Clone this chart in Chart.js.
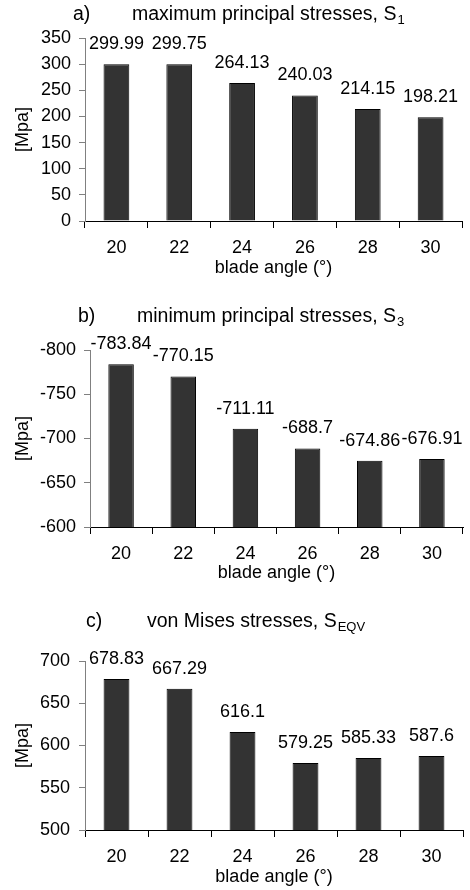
<!DOCTYPE html>
<html>
<head>
<meta charset="utf-8">
<script src="https://cdn.jsdelivr.net/npm/chart.js@4/dist/chart.umd.min.js"></script>
<style>
  html, body { margin: 0; padding: 0; background: #fff; }
  #wrap { position: relative; width: 470px; height: 890px; }
  canvas { position: absolute; left: 0; }
</style>
</head>
<body>
<div id="wrap">
  <canvas id="chartA" width="470" height="290" style="top:0px"></canvas>
  <canvas id="chartB" width="470" height="300" style="top:290px"></canvas>
  <canvas id="chartC" width="470" height="300" style="top:590px"></canvas>
</div>
<script>
// blade angles (x categories)
var angles = ['20', '22', '24', '26', '28', '30'];
// a) maximum principal stresses S1
var s1Values = [299.99, 299.75, 264.13, 240.03, 214.15, 198.21];
// b) minimum principal stresses S3
var s3Values = [-783.84, -770.15, -711.11, -688.7, -674.86, -676.91];
// c) von Mises stresses SEQV
var seqvValues = [678.83, 667.29, 616.1, 579.25, 585.33, 587.6];

var s1Ticks = [0, 350, 50];      // min, max, step
var s3Ticks = [-800, -600, 50];
var seqvTicks = [500, 700, 50];

var FONT = "'Liberation Sans', Arial, sans-serif";
Chart.defaults.font.family = FONT;
Chart.defaults.color = '#000';

// value labels above each bar
var barLabels = {
    id: 'barLabels',
    afterDatasetsDraw: function (chart) {
        var ctx = chart.ctx;
        var meta = chart.getDatasetMeta(0);
        var values = chart.data.datasets[0].data;
        ctx.save();
        ctx.font = '18px ' + FONT;
        ctx.fillStyle = '#000';
        ctx.textAlign = 'center';
        ctx.textBaseline = 'middle';
        meta.data.forEach(function (bar, i) {
            ctx.fillText(String(values[i]), bar.x, bar.y - 20);
        });
        ctx.restore();
    }
};

// panel title with subscript
var panelTitle = {
    id: 'panelTitle',
    afterDraw: function (chart, args, opts) {
        var ctx = chart.ctx;
        ctx.save();
        ctx.fillStyle = '#000';
        ctx.textBaseline = 'middle';
        ctx.textAlign = 'left';
        ctx.font = '19.5px ' + FONT;
        ctx.fillText(opts.label, opts.labelX, opts.y);
        ctx.fillText(opts.text, opts.textX, opts.y);
        var w = ctx.measureText(opts.text).width;
        ctx.font = '13px ' + FONT;
        ctx.fillText(opts.sub, opts.textX + w + 1, opts.y + 5);
        ctx.restore();
    }
};

function makeChart(id, values, ticks, reverse, box, title) {
    var ctx = document.getElementById(id).getContext('2d');
    return new Chart(ctx, {
        type: 'bar',
        data: {
            labels: angles,
            datasets: [{
                data: values,
                backgroundColor: '#333333',
                borderColor: '#000',
                borderWidth: 1,
                categoryPercentage: 1,
                barPercentage: 0.41
            }]
        },
        options: {
            responsive: false,
            animation: false,
            layout: {
                padding: { top: box.top, right: box.right, bottom: 0, left: 0 }
            },
            scales: {
                x: {
                    offset: true,
                    grid: {
                        offset: true,
                        drawOnChartArea: false,
                        drawTicks: true,
                        tickLength: 7,
                        color: '#000'
                    },
                    border: { color: '#000', width: 1 },
                    ticks: { font: { size: 18 }, padding: 9 },
                    title: {
                        display: true,
                        text: 'blade angle (°)',
                        font: { size: 18 },
                        padding: { top: 0, bottom: box.titleBottom }
                    },
                    afterFit: function (scale) { scale.height = box.xHeight; }
                },
                y: {
                    reverse: reverse,
                    min: ticks[0],
                    max: ticks[1],
                    grid: {
                        drawOnChartArea: false,
                        drawTicks: true,
                        tickLength: 6,
                        color: '#808080'
                    },
                    border: { color: '#808080', width: 1 },
                    ticks: { stepSize: ticks[2], font: { size: 18 }, padding: box.tickPad },
                    title: {
                        display: true,
                        text: '[Mpa]',
                        font: { size: 18 },
                        padding: { top: 12, bottom: 0 }
                    },
                    afterFit: function (scale) { scale.width = box.left; }
                }
            },
            plugins: {
                legend: { display: false },
                tooltip: { enabled: false },
                panelTitle: title
            }
        },
        plugins: [barLabels, panelTitle]
    });
}

makeChart('chartA', s1Values, s1Ticks, false,
    { top: 38, right: 8, left: 85, xHeight: 69, titleBottom: 11, tickPad: 8 },
    { label: 'a)', text: 'maximum principal stresses, S', sub: '1', labelX: 73, textX: 132, y: 15 });

makeChart('chartB', s3Values, s3Ticks, true,
    { top: 60, right: 7, left: 90, xHeight: 63, titleBottom: 6, tickPad: 8 },
    { label: 'b)', text: 'minimum principal stresses, S', sub: '3', labelX: 78, textX: 137, y: 27 });

makeChart('chartC', seqvValues, seqvTicks, false,
    { top: 71, right: 7, left: 85, xHeight: 60, titleBottom: 2, tickPad: 9 },
    { label: 'c)', text: 'von Mises stresses, S', sub: 'EQV', labelX: 86, textX: 147, y: 32 });
</script>
</body>
</html>
